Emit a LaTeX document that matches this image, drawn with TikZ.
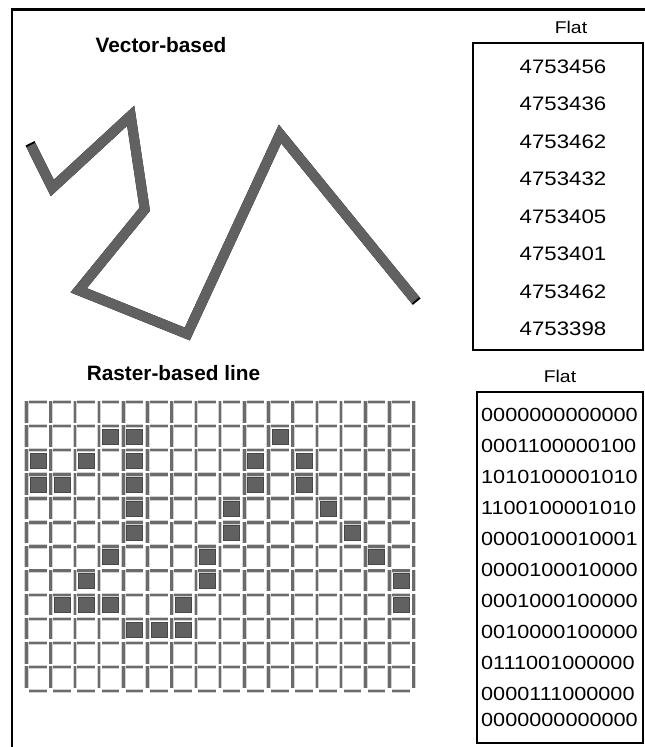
\documentclass[tikz,border=0pt]{standalone}
\usepackage{fontspec}
\setmainfont{Liberation Sans}
\newfontfamily\WideFont{Liberation Sans}[FakeStretch=1.14]
\usetikzlibrary{calc}
\newcommand{\CellW}{24.2}
\newcommand{\CellH}{24.1}
\tikzset{gridbar/.style={draw=black!58,line width=2.5pt,preaction={draw=black!18,line width=4.4pt}}}
\tikzset{cellfill/.style={fill=black!62,draw=black!72,line width=.8pt}}
\tikzset{titletext/.style={font=\bfseries\fontsize{20.8}{20.8}\selectfont,anchor=base,inner sep=0}}
\tikzset{numtext/.style={font=\WideFont\fontsize{19.5}{19.5}\selectfont,anchor=base,inner sep=0}}
\tikzset{bintext/.style={font=\WideFont\fontsize{19}{19}\selectfont,anchor=base west,inner sep=0}}
\begin{document}
\begin{tikzpicture}[x=1pt,y=-1pt]
\useasboundingbox(0,0)rectangle(645,747);
\draw[line width=2.6pt](11,9.5)--(645,9.5);\draw[line width=2.6pt](12,8.2)--(12,747);
\node(vt)[titletext]at(161,52){Vector-based};\node(rt)[titletext]at(173.5,380){Raster-based line};
\draw[line width=10pt](30,143.3)--(52.3,188)--(130.7,115.7)--(144.7,209.3)--(78.7,290.3)--(187.3,334)--(280,134)--(416.7,301.7);
\draw[line width=10pt,black!62,shorten <=2pt,shorten >=2pt](30,143.3)--(52.3,188)--(130.7,115.7)--(144.7,209.3)--(78.7,290.3)--(187.3,334)--(280,134)--(416.7,301.7);
\foreach \i in {0,...,15}{\foreach \j in {0,...,11}{
\draw[gridbar]({25.5+\CellW*\i+1},{400+\CellH*\j+1})--++(0,21.5);
\draw[gridbar]({25.5+\CellW*\i+3.5},{400+\CellH*\j+2})--++(17.5,0);}}
\foreach \j in {0,...,11}\draw[gridbar]({25.5+\CellW*16+1},{400+\CellH*\j+1})--++(0,21.5);
\foreach \i in {0,...,15}\draw[gridbar]({25.5+\CellW*\i+3.5},{400+\CellH*12+2})--++(17.5,0);
\foreach \i/\j in {3/1,4/1,10/1,0/2,2/2,4/2,9/2,11/2,0/3,1/3,4/3,9/3,11/3,4/4,8/4,12/4,4/5,8/5,13/5,3/6,7/6,14/6,2/7,7/7,15/7,1/8,2/8,3/8,6/8,15/8,4/9,5/9,6/9}
\draw[cellfill]({25.5+\CellW*\i+4.5},{400+\CellH*\j+5})rectangle++(16,15);
\draw[line width=2pt](473,43)rectangle(643,350);\draw[line width=2pt](477,392)rectangle(643,743);
\node(f1)[numtext,font=\WideFont\fontsize{17}{17}\selectfont]at(571,33){Flat};
\node(f2)[numtext,font=\WideFont\fontsize{17}{17}\selectfont]at(560,382){Flat};
\foreach \v [count=\k] in {4753456,4753436,4753462,4753432,4753405,4753401,4753462,4753398}
\node(n\k)[numtext]at(563,{35.5+37.5*\k}){\v};
\foreach \v [count=\k] in {0000000000000,0001100000100,1010100001010,1100100001010,0000100010001,0000100010000,0001000100000,0010000100000,0111001000000,0000111000000}
\node(b\k)[bintext]at(481,{390.7+31*\k}){\v};
\node(b11)[bintext]at(481,726){0000000000000};
\end{tikzpicture}
\end{document}
